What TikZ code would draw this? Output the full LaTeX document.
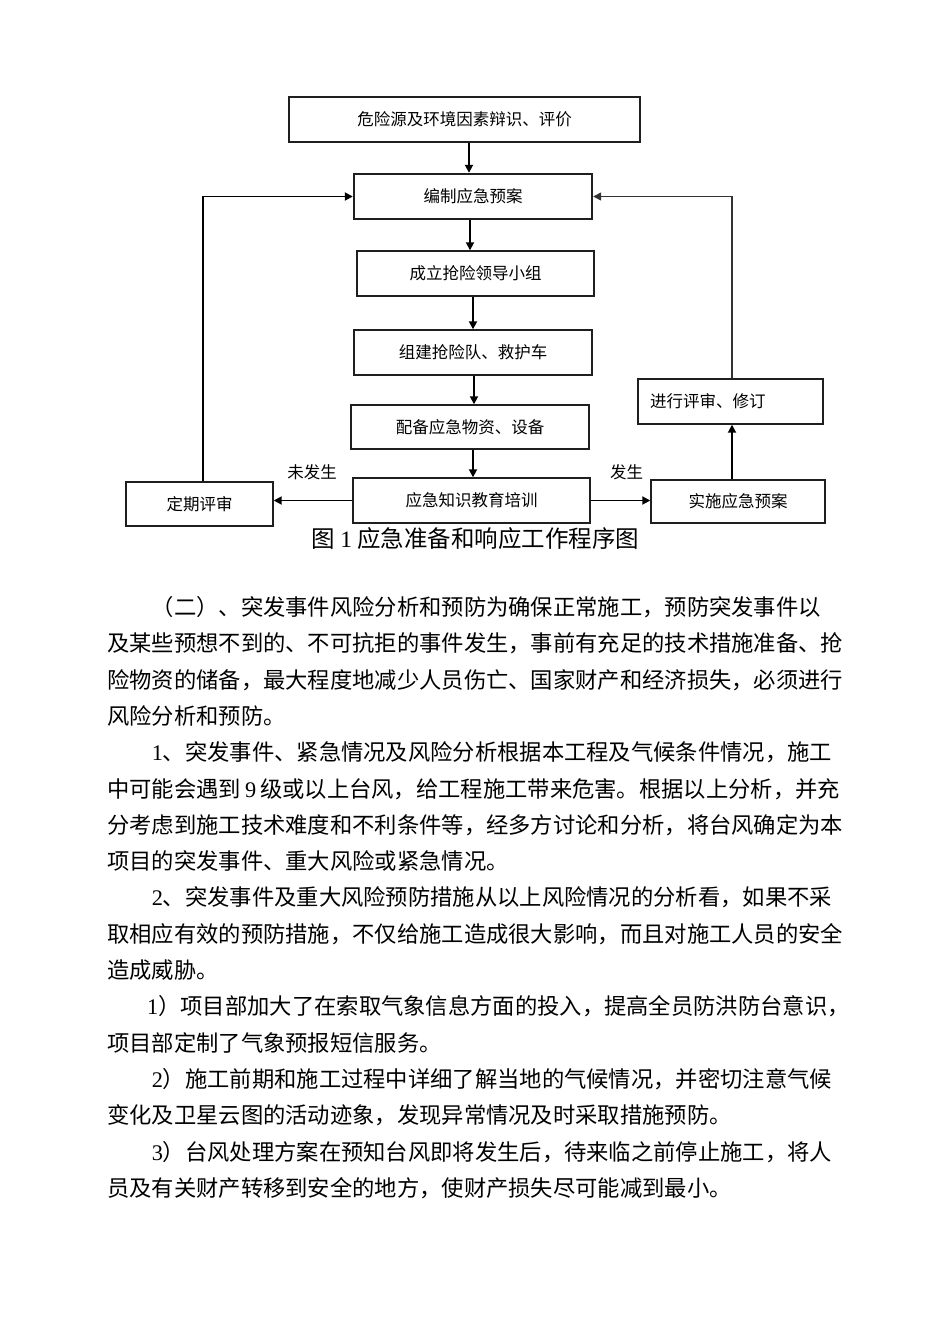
\documentclass[tikz,border=0pt]{standalone}
\usepackage{fontspec}
\setmainfont{Noto Sans CJK SC}
\newfontfamily\lat{Liberation Serif}
\usetikzlibrary{arrows.meta}
\XeTeXlinebreaklocale "zh"
\XeTeXlinebreakskip=0pt plus 3pt minus 1pt
\newcommand\bxfont{\fontsize{16.5}{20}\selectfont}
\newcommand\bdfont{\fontsize{22.3}{26}\selectfont}
\newcommand\cpfont{\fontsize{23.5}{28}\selectfont}
\newcommand\ind{\hspace*{44.6pt}}
\begin{document}
\begin{tikzpicture}[x=1pt,y=-1pt,
  box/.style={draw=black!88, line width=1.4pt, inner sep=0pt, font=\bxfont},
  arr/.style={draw=black, line width=1.8pt, -{Triangle[length=8pt,width=8pt]}},
  lbl/.style={inner sep=0pt, font=\bxfont},
  body/.style={anchor=base west, inner sep=0pt, font=\bdfont}]
\useasboundingbox[fill=white] (0,0) rectangle (950,1344);

% boxes
\node[box, minimum width=351pt, minimum height=45pt] (b1) at (464.5,119.5) {危险源及环境因素辩识、评价};
\node[box, line width=2.4pt, minimum width=238pt, minimum height=45pt] (b2) at (473,196.5) {编制应急预案};
\node[box, minimum width=237pt, minimum height=45pt] (b3) at (475.5,273.5) {成立抢险领导小组};
\node[box, minimum width=238pt, minimum height=45pt] (b4) at (473,352.5) {组建抢险队、救护车};
\node[box, minimum width=238pt, minimum height=44pt] (b5) at (470,427) {配备应急物资、设备};
\node[box, minimum width=237pt, minimum height=45pt] (b6) at (471.5,500.5) {应急知识教育培训};
\node[box, minimum width=147pt, minimum height=44pt] (dq) at (199.5,504) {定期评审};
\node[box, minimum width=174pt, minimum height=43pt] (ss) at (738,501.5) {实施应急预案};
\node[box, minimum width=185pt, minimum height=45pt, text width=161pt, align=left] (jx) at (730.5,401.5) {进行评审、修订};

\node[lbl] (nl) at (312,472) {未发生};
\node[lbl] (yl) at (626.5,472) {发生};

% helper x positions
\coordinate (xa) at (469,0);
\coordinate (xb) at (470,0);
\coordinate (xc) at (473,0);
\coordinate (xd) at (474,0);
\coordinate (xl) at (203,0);
\coordinate (xr) at (732,0);

% connectors
\draw[arr] (b1.south -| xa) -- (b2.north -| xa);
\draw[arr] (b2.south -| xb) -- (b3.north -| xb);
\draw[arr] (b3.south -| xc) -- (b4.north -| xc);
\draw[arr] (b4.south -| xd) -- (b5.north -| xd);
\draw[arr] (b5.south -| xc) -- (b6.north -| xc);
\draw[arr] (b6.west) -- (b6.west -| dq.east);
\draw[arr] (b6.east) -- (b6.east -| ss.west);
\draw[arr] (dq.north -| xl) |- (b2.west);
\draw[arr] (ss.north -| xr) -- (jx.south -| xr);
\draw[arr, line width=1.3pt, draw=black!80] (jx.north -| xr) |- (b2.east);

% caption
\node[anchor=base, inner sep=0pt, font=\cpfont] (cap) at (475.5,547) {图\kern5pt{\lat 1}\kern5pt应急准备和响应工作程序图};

% body text
\node[body] (t1) at (107,615.5) {\ind（二）、突发事件风险分析和预防为确保正常施工，预防突发事件以};
\node[body] (t2) at (107,651.8) {\hbox to 736pt{及某些预想不到的、不可抗拒的事件发生，事前有充足的技术措施准备、抢}};
\node[body] (t3) at (107,688.1) {\hbox to 736pt{险物资的储备，最大程度地减少人员伤亡、国家财产和经济损失，必须进行}};
\node[body] (t4) at (107,724.4) {风险分析和预防。};
\node[body] (t5) at (107,760.7) {\hbox to 736pt{\ind{\lat 1}、突发事件、紧急情况及风险分析根据本工程及气候条件情况，施工}};
\node[body] (t6) at (107,797.0) {\hbox to 736pt{中可能会遇到\kern4pt{\lat 9}\kern4pt级或以上台风，给工程施工带来危害。根据以上分析，并充}};
\node[body] (t7) at (107,833.3) {\hbox to 736pt{分考虑到施工技术难度和不利条件等，经多方讨论和分析，将台风确定为本}};
\node[body] (t8) at (107,869.6) {项目的突发事件、重大风险或紧急情况。};
\node[body] (t9) at (107,905.9) {\hbox to 736pt{\ind{\lat 2}、突发事件及重大风险预防措施从以上风险情况的分析看，如果不采}};
\node[body] (t10) at (107,942.2) {\hbox to 736pt{取相应有效的预防措施，不仅给施工造成很大影响，而且对施工人员的安全}};
\node[body] (t11) at (107,978.5) {造成威胁。};
\node[body] (t12) at (107,1014.8) {\hbox to 736pt{\hspace*{40pt}{\lat 1}）项目部加大了在索取气象信息方面的投入，提高全员防洪防台意识，}};
\node[body] (t13) at (107,1051.1) {项目部定制了气象预报短信服务。};
\node[body] (t14) at (107,1087.4) {\hbox to 736pt{\ind{\lat 2}）施工前期和施工过程中详细了解当地的气候情况，并密切注意气候}};
\node[body] (t15) at (107,1123.7) {变化及卫星云图的活动迹象，发现异常情况及时采取措施预防。};
\node[body] (t16) at (107,1160.0) {\hbox to 736pt{\ind{\lat 3}）台风处理方案在预知台风即将发生后，待来临之前停止施工，将人}};
\node[body] (t17) at (107,1196.3) {员及有关财产转移到安全的地方，使财产损失尽可能减到最小。};
\end{tikzpicture}
\end{document}
